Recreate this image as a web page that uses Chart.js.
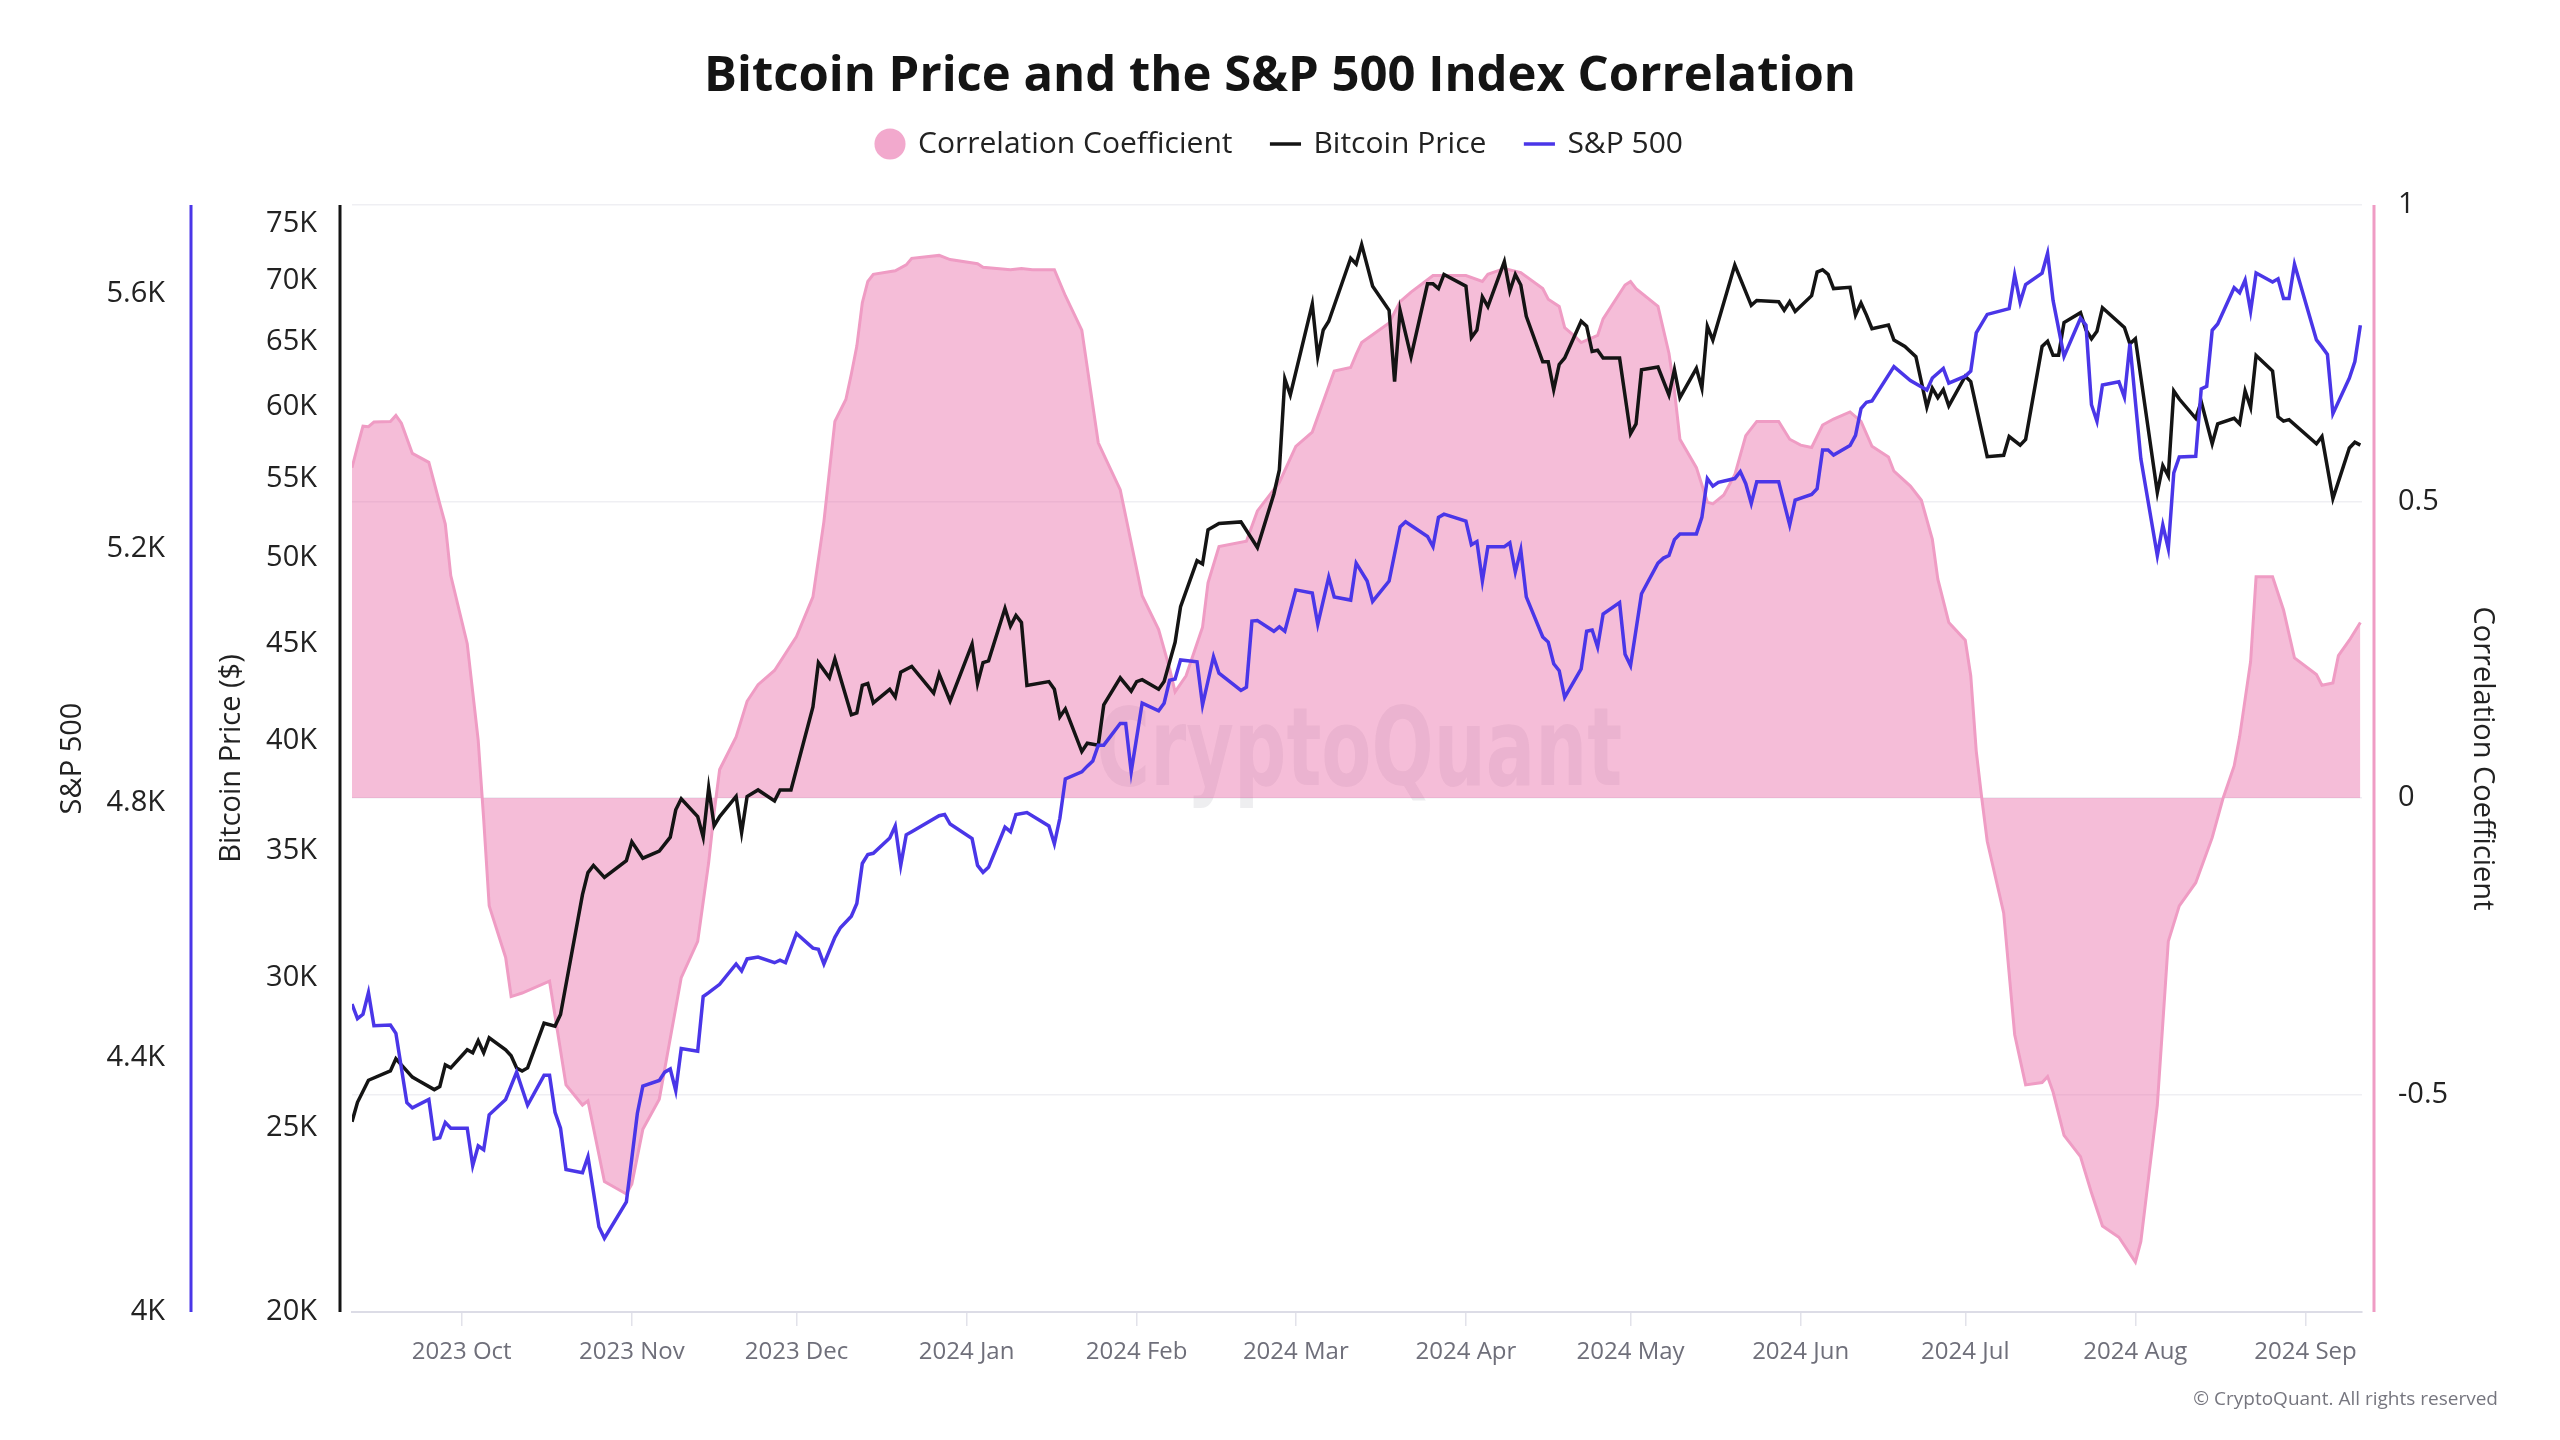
<!DOCTYPE html>
<html>
<head>
<meta charset="utf-8">
<script src="https://cdn.jsdelivr.net/npm/chart.js@4.4.1/dist/chart.umd.min.js"></script>
<style>
  html, body { margin: 0; padding: 0; background: #ffffff; }
  #wrap { position: relative; width: 2560px; height: 1440px; }
  #copyright { position: absolute; right: 62px; top: 1385px; font: 19px "Open Sans", sans-serif; color: #76767f; line-height: 26px; white-space: nowrap; }
</style>
</head>
<body>
<div id="wrap">
  <canvas id="c" width="2560" height="1440"></canvas>
  <div id="copyright">© CryptoQuant. All rights reserved</div>
</div>
<script>
// ---- Data (x = days since 2023-09-11) ----
const btcDays = [0,1,3,7,8,9,11,12,15,16,17,18,21,22,23,24,25,28,29,30,31,32,35,37,38,42,43,44,46,50,51,53,56,58,59,60,63,64,65,66,67,70,71,72,74,77,78,80,84,85,87,88,91,92,93,94,95,98,99,100,102,106,107,109,113,114,115,116,119,120,121,122,123,127,128,129,130,133,134,136,137,140,142,143,144,147,148,150,151,154,155,156,158,162,165,168,169,170,171,175,176,177,178,182,183,184,186,189,190,191,193,196,197,198,199,203,204,205,206,207,210,211,212,213,214,217,218,219,220,221,224,225,226,227,228,231,233,234,235,238,240,241,242,245,246,247,248,252,255,256,260,261,262,263,266,267,268,269,270,273,274,275,276,277,280,281,283,285,287,288,289,290,291,294,295,298,301,302,304,305,308,309,310,311,312,315,316,317,318,319,323,324,325,329,330,331,332,333,336,337,339,340,343,344,345,346,347,350,351,352,353,358,359,361,364,365,366];
const btcPrice = [25200,25800,26500,26800,27200,27000,26600,26500,26200,26300,27000,26900,27500,27400,27800,27400,27900,27500,27300,26900,26800,26900,28400,28300,28700,33200,34100,34400,33900,34600,35400,34700,35000,35600,36800,37300,36500,35600,37800,36100,36500,37400,35800,37400,37700,37200,37700,37700,41700,44000,43200,44200,41300,41400,42800,42900,41900,42600,42200,43500,43800,42400,43400,42000,45000,42900,44000,44100,47000,46000,46600,46200,42800,43000,42600,41200,41600,39500,39900,39800,41800,43200,42500,43000,43100,42600,43000,45100,47100,49800,49600,51700,52100,52200,50600,54000,55600,62100,60900,68000,63800,65900,66600,71900,71400,73100,69500,67500,61900,67500,63800,69700,69700,69300,70500,69500,65300,65900,68600,67800,71600,69100,70500,69600,67000,63400,63400,61300,63200,63700,66600,66200,64200,64300,63700,63700,58100,58800,62800,63000,60900,62800,60700,62900,61400,66200,65100,71300,67900,68300,68200,67500,68200,67400,68700,70700,70900,70500,69300,69400,67100,68100,67100,66000,66300,65100,64600,63800,60000,61400,60700,61300,60100,62300,61900,56500,56600,57900,57300,57700,64600,65000,63900,63900,66500,67300,65900,65200,65800,67700,66100,64800,65200,54100,55900,55200,61200,60600,59200,60400,57400,58800,59200,58800,61200,60000,63900,62700,59300,59000,59100,57400,57900,53700,57100,57500,57300];

const spxDays = [0,1,2,3,4,7,8,10,11,14,15,16,17,18,21,22,23,24,25,28,30,32,35,36,37,38,39,42,43,45,46,50,51,52,53,56,57,58,59,60,63,64,65,67,70,71,72,74,77,78,79,81,84,85,86,88,89,91,92,93,94,95,98,99,100,101,102,107,108,109,113,114,115,116,119,120,121,123,127,128,129,130,133,134,135,136,137,140,141,142,144,147,148,149,150,151,154,155,157,158,162,163,164,165,168,169,170,172,175,176,178,179,182,183,185,186,189,191,192,196,197,198,199,203,204,205,206,207,210,211,212,213,214,217,218,219,220,221,224,225,226,227,228,231,232,233,235,238,239,240,241,242,245,246,247,248,249,252,253,254,255,256,260,261,262,263,266,267,268,269,270,273,274,275,276,277,281,284,287,288,290,291,294,295,296,298,302,303,304,305,308,309,310,312,315,316,317,318,319,322,323,324,326,329,330,331,332,333,336,337,338,339,340,343,344,345,346,347,350,351,352,353,354,358,359,360,361,364,365,366];
const spxValue = [4484,4461,4468,4502,4450,4451,4438,4329,4321,4334,4272,4274,4298,4289,4289,4230,4261,4255,4310,4334,4377,4325,4372,4372,4314,4289,4224,4219,4244,4134,4116,4173,4242,4312,4355,4364,4377,4382,4348,4414,4410,4496,4502,4515,4547,4536,4555,4558,4549,4553,4549,4595,4572,4570,4547,4589,4604,4622,4642,4705,4719,4721,4745,4764,4702,4750,4755,4780,4782,4767,4744,4702,4691,4699,4762,4755,4782,4785,4764,4736,4776,4838,4849,4858,4866,4891,4891,4925,4925,4849,4957,4945,4957,4993,4995,5025,5022,4954,5030,5004,4977,4982,5086,5087,5070,5077,5070,5135,5130,5081,5155,5124,5119,5177,5149,5117,5149,5234,5242,5219,5203,5249,5254,5243,5206,5211,5149,5203,5203,5209,5163,5198,5124,5061,5053,5019,5008,4966,5011,5070,5072,5045,5097,5115,5034,5016,5129,5177,5185,5189,5214,5223,5223,5249,5310,5298,5304,5310,5321,5302,5271,5305,5305,5271,5237,5276,5285,5294,5355,5355,5347,5362,5378,5420,5430,5432,5486,5464,5449,5468,5483,5460,5471,5479,5539,5568,5577,5630,5587,5615,5633,5664,5590,5502,5562,5551,5426,5400,5457,5462,5438,5522,5341,5189,5237,5200,5319,5344,5345,5451,5455,5543,5553,5610,5602,5622,5573,5633,5619,5624,5593,5593,5647,5528,5517,5505,5412,5468,5494,5551];

const corrDays = [0,1,2,3,4,7,8,9,11,14,16,17,18,21,23,24,25,28,29,31,36,39,42,43,46,50,51,53,56,60,63,65,66,67,70,72,74,77,81,84,86,88,90,91,92,93,94,95,99,101,102,107,109,114,115,120,122,124,128,130,133,136,138,140,144,147,149,150,152,155,156,158,163,165,169,172,175,179,182,183,184,189,191,193,196,197,203,206,207,210,213,217,218,220,221,223,224,227,228,232,233,234,238,240,241,242,245,247,248,250,252,254,256,260,262,264,266,268,270,273,275,277,280,281,284,286,288,289,291,294,295,296,297,298,301,303,305,308,309,310,312,315,317,319,322,325,326,329,331,333,336,339,341,343,344,346,347,350,352,354,358,359,361,362,364,366];
const corrValue = [0.557,0.593,0.627,0.626,0.634,0.635,0.645,0.632,0.581,0.566,0.496,0.462,0.375,0.260,0.097,-0.036,-0.182,-0.269,-0.335,-0.329,-0.309,-0.484,-0.518,-0.511,-0.647,-0.668,-0.651,-0.559,-0.508,-0.303,-0.242,-0.109,-0.024,0.048,0.103,0.163,0.191,0.215,0.272,0.339,0.466,0.635,0.672,0.715,0.762,0.835,0.871,0.883,0.889,0.899,0.910,0.915,0.908,0.901,0.895,0.891,0.893,0.891,0.891,0.847,0.789,0.599,0.559,0.520,0.341,0.284,0.218,0.179,0.206,0.288,0.363,0.424,0.433,0.484,0.532,0.593,0.617,0.720,0.726,0.748,0.768,0.801,0.837,0.853,0.874,0.881,0.881,0.871,0.883,0.893,0.886,0.859,0.841,0.829,0.793,0.777,0.768,0.780,0.808,0.865,0.871,0.859,0.829,0.750,0.687,0.605,0.557,0.499,0.496,0.511,0.545,0.611,0.635,0.635,0.605,0.595,0.591,0.629,0.639,0.651,0.635,0.593,0.575,0.551,0.526,0.502,0.436,0.369,0.296,0.266,0.206,0.079,0.000,-0.073,-0.194,-0.399,-0.484,-0.480,-0.470,-0.496,-0.569,-0.605,-0.666,-0.722,-0.741,-0.783,-0.748,-0.518,-0.242,-0.182,-0.143,-0.067,0.000,0.054,0.103,0.230,0.373,0.373,0.317,0.236,0.208,0.190,0.194,0.240,0.266,0.296];

const monthTickDays = [20,51,81,112,143,172,203,233,264,294,325,356];
const monthTickLabels = ['2023 Oct','2023 Nov','2023 Dec','2024 Jan','2024 Feb','2024 Mar','2024 Apr','2024 May','2024 Jun','2024 Jul','2024 Aug','2024 Sep'];
const btcTicks = [20000,25000,30000,35000,40000,45000,50000,55000,60000,65000,70000,75000];
const spxTicks = [4000,4400,4800,5200,5600];
const corrTicks = [-0.5,0,0.5,1];

const seriesNames = ['Correlation Coefficient','Bitcoin Price','S&P 500'];
const chartTitle = 'Bitcoin Price and the S&P 500 Index Correlation';

// ---- Styles ----
const BLUE = '#4a36e8';
const BLACK = '#141414';
const PINK_LINE = '#ef9cc4';
const PINK_FILL = 'rgba(232,98,163,0.42)';

const toXY = (xs, ys) => xs.map((x, i) => ({ x: x, y: ys[i] }));

const axisLines = {
  id: 'axisLines',
  afterDatasetsDraw(chart) {
    const { ctx, chartArea, scales } = chart;
    ctx.save();
    ctx.lineWidth = 3;
    [[scales.ySpx, BLUE, 'left'], [scales.yBtc, BLACK, 'left'], [scales.yCorr, PINK_LINE, 'right']].forEach(([sc, col, side]) => {
      const x = side === 'left' ? sc.right - 12 : sc.left + 12;
      ctx.strokeStyle = col;
      ctx.beginPath();
      ctx.moveTo(x, chartArea.top);
      ctx.lineTo(x, chartArea.bottom);
      ctx.stroke();
    });
    ctx.restore();
  }
};

const watermark = {
  id: 'watermark',
  beforeDatasetsDraw(chart) {
    const { ctx, chartArea } = chart;
    const w = chartArea.right - chartArea.left;
    const h = chartArea.bottom - chartArea.top;
    ctx.save();
    ctx.font = 'bold 108px "DejaVu Sans", sans-serif';
    const natural = ctx.measureText('CryptoQuant').width;
    const target = w * 0.2615;
    const cx = chartArea.left + w * 0.5012;
    const baseY = chartArea.top + h * 0.524;
    ctx.translate(cx, baseY);
    ctx.scale(target / natural, 1);
    ctx.fillStyle = 'rgba(60,60,80,0.085)';
    ctx.textAlign = 'center';
    ctx.textBaseline = 'alphabetic';
    ctx.fillText('CryptoQuant', 0, 0);
    ctx.restore();
  }
};

function build() {
  Chart.defaults.font.family = '"Open Sans", sans-serif';
  Chart.defaults.color = '#222222';
  const ctx = document.getElementById('c').getContext('2d');
  new Chart(ctx, {
    type: 'line',
    data: {
      datasets: [
        {
          label: seriesNames[0],
          data: toXY(corrDays, corrValue),
          yAxisID: 'yCorr',
          borderColor: PINK_LINE,
          backgroundColor: PINK_FILL,
          borderWidth: 3,
          fill: 'origin',
          pointRadius: 0,
          tension: 0,
          order: 3
        },
        {
          label: seriesNames[1],
          data: toXY(btcDays, btcPrice),
          yAxisID: 'yBtc',
          borderColor: BLACK,
          backgroundColor: BLACK,
          borderWidth: 3.5,
          fill: false,
          pointRadius: 0,
          tension: 0,
          order: 2
        },
        {
          label: seriesNames[2],
          data: toXY(spxDays, spxValue),
          yAxisID: 'ySpx',
          borderColor: BLUE,
          backgroundColor: BLUE,
          borderWidth: 3.5,
          fill: false,
          pointRadius: 0,
          tension: 0,
          order: 1
        }
      ]
    },
    options: {
      responsive: false,
      animation: false,
      events: [],
      layout: { padding: { left: 40, right: 40, top: 0, bottom: 58 } },
      plugins: {
        title: {
          display: true,
          text: chartTitle,
          color: '#141414',
          font: { size: 49, weight: 'bold', lineHeight: 1 },
          padding: { top: 53, bottom: -13 }
        },
        legend: {
          display: true,
          position: 'top',
          labels: {
            usePointStyle: true,
            boxWidth: 26,
            boxHeight: 22,
            padding: 40,
            color: '#222222',
            font: { size: 30 },
            sort: (a, b) => a.datasetIndex - b.datasetIndex,
            generateLabels(chart) {
              const items = Chart.defaults.plugins.legend.labels.generateLabels(chart);
              items.forEach(it => {
                if (it.datasetIndex === 0) {
                  it.pointStyle = 'circle';
                  it.fillStyle = '#f2a9cd';
                  it.strokeStyle = '#f2a9cd';
                  it.lineWidth = 0;
                } else {
                  it.pointStyle = 'line';
                  it.strokeStyle = it.datasetIndex === 1 ? BLACK : BLUE;
                  it.lineWidth = 3.5;
                }
              });
              return items;
            }
          }
        },
        tooltip: { enabled: false }
      },
      scales: {
        x: {
          type: 'linear',
          position: 'bottom',
          min: 0,
          max: 366.3,
          afterBuildTicks: (s) => { s.ticks = monthTickDays.map(v => ({ value: v })); },
          afterFit: (s) => { s.height = 70; },
          ticks: {
            autoSkip: false,
            maxRotation: 0,
            padding: 12,
            color: '#6f6f7a',
            font: { size: 24 },
            callback: (v) => { const i = monthTickDays.indexOf(v); return i >= 0 ? monthTickLabels[i] : ''; }
          },
          grid: { display: true, drawOnChartArea: false, drawTicks: true, tickLength: 14, color: '#e2e2ea', lineWidth: 1.5 },
          border: { display: true, color: '#dcdce6', width: 2 }
        },
        xTop: {
          type: 'linear',
          position: 'top',
          display: true,
          afterFit: (s) => { s.height = 36; },
          ticks: { display: false },
          grid: { display: false },
          border: { display: false }
        },
        ySpx: {
          type: 'linear',
          position: 'left',
          weight: 2,
          min: 4000,
          max: 5740,
          afterBuildTicks: (s) => { s.ticks = spxTicks.map(v => ({ value: v })); },
          afterFit: (s) => { s.width = 163; },
          ticks: {
            padding: 38,
            color: '#222222',
            font: { size: 29 },
            callback: (v) => (v % 1000 === 0 ? (v / 1000) + 'K' : (v / 1000).toFixed(1) + 'K')
          },
          grid: { display: false, drawTicks: false },
          border: { display: false },
          title: { display: true, text: 'S&P 500', color: '#222222', font: { size: 29 }, padding: { top: 15.6, bottom: 0 } }
        },
        yBtc: {
          type: 'logarithmic',
          position: 'left',
          weight: 1,
          min: 20000,
          max: 76700,
          afterBuildTicks: (s) => { s.ticks = btcTicks.map(v => ({ value: v })); },
          afterFit: (s) => { s.width = 149; },
          ticks: {
            padding: 35,
            color: '#222222',
            font: { size: 29 },
            callback: (v) => (v / 1000) + 'K'
          },
          grid: { display: false, drawTicks: false },
          border: { display: false },
          title: { display: true, text: 'Bitcoin Price ($)', color: '#222222', font: { size: 29 }, padding: { top: 11.6, bottom: 0 } }
        },
        yCorr: {
          type: 'linear',
          position: 'right',
          min: -0.867,
          max: 1,
          afterBuildTicks: (s) => { s.ticks = corrTicks.map(v => ({ value: v })); },
          afterFit: (s) => { s.width = 158; },
          ticks: {
            padding: 36,
            color: '#222222',
            font: { size: 29 },
            callback: (v) => String(v)
          },
          grid: { display: true, drawOnChartArea: true, drawTicks: false, color: '#efeff3', lineWidth: 1.5 },
          border: { display: false },
          title: { display: true, text: 'Correlation Coefficient', color: '#222222', font: { size: 29 }, padding: { top: 20.6, bottom: 0 } }
        }
      }
    },
    plugins: [watermark, axisLines]
  });
}

const fontLoads = [
  document.fonts.load('bold 49px "Open Sans"'),
  document.fonts.load('30px "Open Sans"'),
  document.fonts.load('bold 108px "DejaVu Sans"')
];
Promise.all(fontLoads).then(build, build);
</script>
</body>
</html>
